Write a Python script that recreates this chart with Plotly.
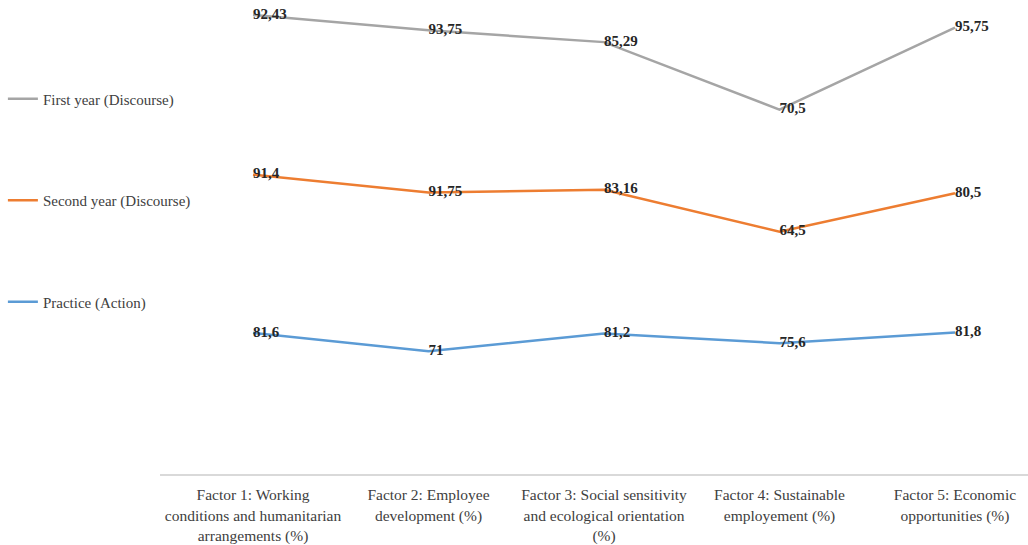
import plotly.graph_objects as go

categories = [
    "Factor 1: Working<br>conditions and humanitarian<br>arrangements (%)",
    "Factor 2: Employee<br>development (%)",
    "Factor 3: Social sensitivity<br>and ecological orientation<br>(%)",
    "Factor 4: Sustainable<br>employement (%)",
    "Factor 5: Economic<br>opportunities (%)",
]
practice = [81.6, 71, 81.2, 75.6, 81.8]
second_year = [91.4, 91.75, 83.16, 64.5, 80.5]
first_year = [92.43, 93.75, 85.29, 70.5, 95.75]

series = [
    ("Practice (Action)", practice, "#5B9BD5", 3),
    ("Second year (Discourse)", second_year, "#ED7D31", 2),
    ("First year (Discourse)", first_year, "#A5A5A5", 1),
]

def fmt(v):
    s = ("%g" % v)
    return s.replace(".", ",")

fig = go.Figure()
x = list(range(len(categories)))
for i, (name, vals, color, rank) in enumerate(series):
    fig.add_trace(go.Scatter(
        x=x, y=vals, name=name, mode="lines+text",
        stackgroup="one", fill="none",
        line=dict(color=color, width=2.5),
        text=[fmt(v) for v in vals],
        textposition="middle right",
        textfont=dict(family="Liberation Serif", size=15, color="#262626"),
        texttemplate="<b>%{text}</b>",
        legendgroup="g%d" % rank,
        legendrank=rank,
        hoverinfo="skip",
    ))

fig.update_layout(
    width=1028, height=545,
    margin=dict(l=160, r=0, t=0, b=71, autoexpand=False),
    plot_bgcolor="white", paper_bgcolor="white",
    font=dict(family="Liberation Serif", size=15.5, color="#404040"),
    showlegend=True,
    legend=dict(
        x=-0.181, xanchor="left", y=0.826, yanchor="top",
        traceorder="grouped", tracegroupgap=79,
        font=dict(family="Liberation Serif", size=15, color="#404040"),
        itemwidth=30,
    ),
    xaxis=dict(
        tickmode="array", tickvals=x, ticktext=categories,
        range=[-0.53, 4.416], showgrid=False, zeroline=False,
        showline=True, linecolor="#D9D9D9", linewidth=1.5,
        ticks="", ticklabelstandoff=6,
        tickfont=dict(family="Liberation Serif", size=15.5, color="#404040"),
    ),
    yaxis=dict(range=[0, 274], visible=False, showgrid=False, zeroline=False),
)

fig.write_html("out.html")
